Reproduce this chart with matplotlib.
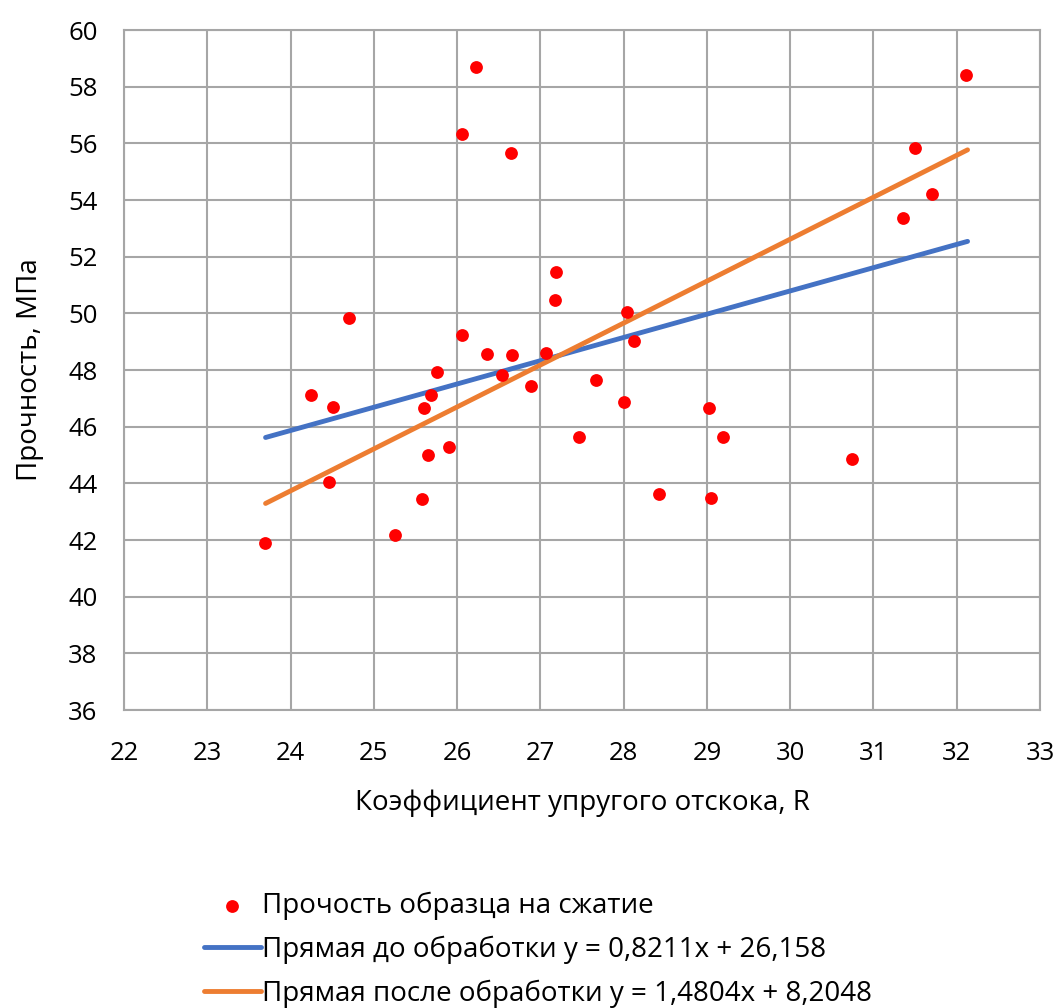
import matplotlib
matplotlib.use("Agg")
import matplotlib.pyplot as plt
import numpy as np

plt.rcParams['font.family'] = ['Open Sans', 'DejaVu Sans']

x_pts = [23.69, 24.24, 24.51, 24.46, 24.70, 25.25, 25.58, 25.60, 25.65, 25.69,
         25.76, 25.90, 26.06, 26.06, 26.23, 26.36, 26.54, 26.65, 26.66, 26.89,
         27.07, 27.17, 27.19, 27.46, 27.67, 28.00, 28.04, 28.12, 28.43, 29.03,
         29.05, 29.19, 30.74, 31.36, 31.50, 31.70, 32.11]
y_pts = [41.89, 47.12, 46.69, 44.05, 49.83, 42.17, 43.45, 46.66, 45.00, 47.12,
         47.93, 45.28, 56.33, 49.23, 58.69, 48.56, 47.82, 55.66, 48.53, 47.42,
         48.60, 50.47, 51.46, 45.63, 47.65, 46.87, 50.05, 49.02, 43.62, 46.66,
         43.48, 45.63, 44.86, 53.36, 55.83, 54.21, 58.41]

line_x = [23.7, 32.13]
blue_coef = (0.8211, 26.158)
orange_coef = (1.4804, 8.2048)

labels = ["Прочость образца на сжатие",
          "Прямая до обработки y = 0,8211x + 26,158",
          "Прямая после обработки y = 1,4804x + 8,2048"]
xlabel = "Коэффициент упругого отскока, R"
ylabel = "Прочность, МПа"

fig = plt.figure(figsize=(10.57, 10.08), dpi=100)
ax = fig.add_axes([124/1057, 1 - 710/1008, (1040-124)/1057, (710-30)/1008])

ax.scatter(x_pts, y_pts, s=85, color='#ff0000', zorder=3, label=labels[0], linewidths=0)
lx = np.array(line_x)
ax.plot(lx, blue_coef[0]*lx + blue_coef[1], color='#4472c4', lw=3.5, label=labels[1], zorder=2,
        solid_capstyle='round')
ax.plot(lx, orange_coef[0]*lx + orange_coef[1], color='#ed7d31', lw=3.5, label=labels[2], zorder=2,
        solid_capstyle='round')

ax.set_xlim(22, 33)
ax.set_ylim(36, 60)
ax.set_xticks(range(22, 34))
ax.set_yticks(range(36, 61, 2))
ax.grid(True, color='#a6a6a6', lw=1.5)
ax.set_axisbelow(True)
for s in ax.spines.values():
    s.set_color('#a6a6a6')
    s.set_linewidth(1.5)
ax.tick_params(length=0, labelsize=18.5, colors='black')
ax.tick_params(axis='x', pad=22)
ax.tick_params(axis='y', pad=19)
ax.set_xlabel(xlabel, fontsize=20, labelpad=17)
ax.set_ylabel(ylabel, fontsize=20, labelpad=17)

fig.legend(loc='upper left', bbox_to_anchor=(204/1057, 1 - 892/1008), frameon=False,
           fontsize=20, handlelength=2.05, handletextpad=0.05, labelspacing=0.55,
           borderaxespad=0, borderpad=0)

fig.savefig("out.png", dpi=100)
